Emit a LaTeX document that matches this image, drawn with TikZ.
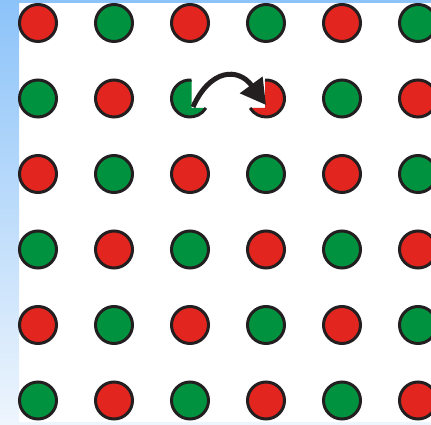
\documentclass[tikz,border=0pt]{standalone}
\usetikzlibrary{arrows.meta}
\definecolor{redc}{RGB}{226,37,30}
\definecolor{greenc}{RGB}{0,146,63}
\definecolor{outl}{RGB}{35,31,32}
\definecolor{bluetop}{RGB}{140,195,249}
\definecolor{bluebot}{RGB}{238,245,253}
\tikzset{
  dot/.style={circle, draw=outl, line width=3pt, minimum size=37pt, inner sep=0pt},
  rd/.style={dot, fill=redc},
  gn/.style={dot, fill=greenc},
  rim/.style={draw=outl, line width=3pt},
  swap/.style={draw=outl, line width=5pt, -{Triangle[length=25pt,width=27pt]}}
}
\begin{document}
\begin{tikzpicture}[x=1pt,y=1pt]
\useasboundingbox (0,0) rectangle (431,425);
\clip (0,0) rectangle (431,425);
\fill[white] (0,0) rectangle (431,425);
% background strips
\shade[top color=bluetop, bottom color=bluebot] (0,0) rectangle (19,425);
\fill[bluetop] (0,422) rectangle (431,425);
\fill[bluebot] (19,0) rectangle (431,3);
% grid of dots
\foreach \r/\yy in {1/402,2/326.5,3/251,4/175.5,5/100,6/24.5}{
  \foreach \c/\xx in {1/38,2/114,3/190,4/266,5/342,6/418}{
    \pgfmathtruncatemacro{\pty}{mod(\r+\c,2)}
    \pgfmathtruncatemacro{\skp}{(\r==2)&&((\c==3)||(\c==4))}
    \ifnum\skp=0
      \ifnum\pty=0 \node[rd] (c\r\c) at (\xx,\yy) {};\else \node[gn] (c\r\c) at (\xx,\yy) {};\fi
    \fi
  }
}
% partial green dot
\fill[greenc] (191.5,344.94) arc[start angle=85.35, end angle=329.1, radius=18.5] -- (191.5,317) -- cycle;
\draw[rim] (191.5,344.94) arc[start angle=85.35, end angle=329.1, radius=18.5];
% partial red dot
\fill[redc] (265,344.97) arc[start angle=93.1, end angle=-149.1, radius=18.5] -- (265,317) -- cycle;
\draw[rim] (265,344.97) arc[start angle=93.1, end angle=-149.1, radius=18.5];
% arrow
\coordinate (s) at (193,318);
\coordinate (t) at (266,320);
\draw[swap] (s) .. controls (210,356) and (238,358) .. (t);
\end{tikzpicture}
\end{document}
